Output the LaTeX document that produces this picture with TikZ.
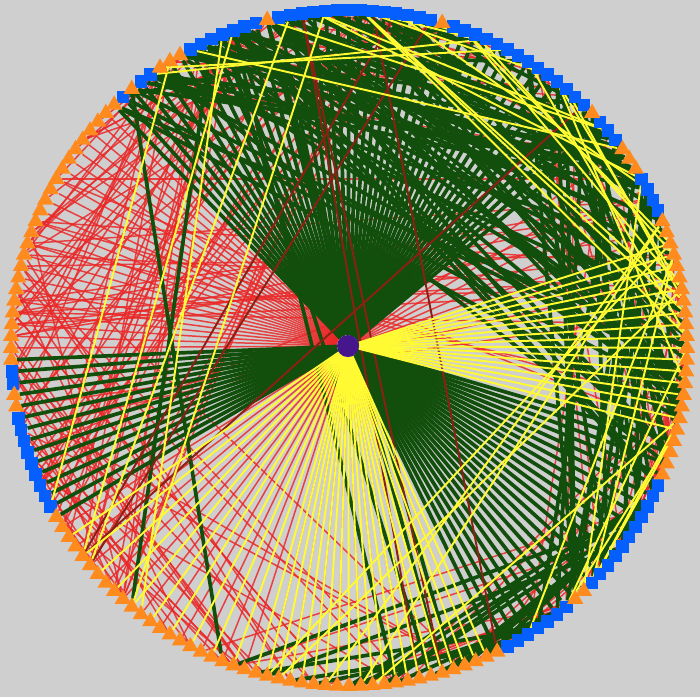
\documentclass[tikz,border=0pt]{standalone}
\usetikzlibrary{shapes.geometric}
\pgfdeclarelayer{bgl}
\pgfdeclarelayer{edges}
\pgfsetlayers{bgl,edges,main}
\definecolor{bgc}{RGB}{207,207,207}
\definecolor{gc}{RGB}{18,78,12}
\definecolor{rc}{RGB}{235,40,40}
\definecolor{yc}{RGB}{255,250,50}
\definecolor{oc}{RGB}{255,138,30}
\definecolor{bc}{RGB}{5,95,255}
\definecolor{pc}{RGB}{70,22,140}
\definecolor{brc}{RGB}{140,32,20}
\begin{document}
\begin{tikzpicture}[x=0.02cm,y=-0.02cm,
  bluesq/.style={rectangle,fill=bc,inner sep=0pt,minimum size=12.5*0.02cm},
  oratri/.style={regular polygon,regular polygon sides=3,fill=oc,inner sep=0pt,minimum size=19*0.02cm},
  hubnode/.style={circle,fill=pc,inner sep=0pt,minimum size=22*0.02cm},
  gline/.style={draw=gc,line width=2.1pt},
  rline/.style={draw=rc,line width=0.85pt,draw opacity=0.85},
  yline/.style={draw=yc,line width=1.1pt},
  bline/.style={draw=brc,line width=1.1pt}]
\begin{pgfonlayer}{bgl}
\fill[bgc] (0,0) rectangle (700,697);
\end{pgfonlayer}
\useasboundingbox (0,0) rectangle (700,697);
% perimeter nodes, node k at angle 2k degrees
\foreach \s/\e in {12/15,19/21,23/36,38/51,53/59,63/64,66/66,92/93,96/104,149/155,158/168}{
  \foreach \k in {\s,...,\e}{
    \node[bluesq] (n\k) at ({349+338*cos(2*\k)},{348-338*sin(2*\k)}) {};
  }
}
\foreach \s/\e in {0/11,16/18,22/22,37/37,52/52,60/62,65/65,67/91,94/95,105/148,156/157,169/179}{
  \foreach \k in {\s,...,\e}{
    \node[oratri] (n\k) at ({349+338*cos(2*\k)},{348-338*sin(2*\k)}) {};
  }
}
\node[hubnode] (c) at (348,346) {};
\pgfmathsetseed{4242}
\begin{pgfonlayer}{edges}
% red hub edges
\foreach \k in {68,...,90}{\draw[rline] (c) -- (n\k);}
\foreach \k in {106,108,...,146}{\draw[rline] (c) -- (n\k);}
\foreach \k in {10,12,...,18}{\draw[rline] (c) -- (n\k);}
% red chords
\foreach \i in {1,...,50}{
  \pgfmathrandominteger{\ra}{68}{115}\pgfmathrandominteger{\rb}{38}{62}
  \draw[rline] (n\ra) -- (n\rb);}
\foreach \i in {1,...,20}{
  \pgfmathrandominteger{\ra}{75}{100}\pgfmathrandominteger{\rb}{170}{195}
  \pgfmathtruncatemacro{\rb}{mod(\rb,180)}
  \draw[rline] (n\ra) -- (n\rb);}
\foreach \i in {1,...,30}{
  \pgfmathrandominteger{\ra}{110}{145}\pgfmathrandominteger{\rb}{80}{105}
  \draw[rline] (n\ra) -- (n\rb);}
\foreach \i in {1,...,15}{
  \pgfmathrandominteger{\ra}{45}{66}\pgfmathrandominteger{\rb}{15}{35}
  \draw[rline] (n\ra) -- (n\rb);}
\foreach \i in {1,...,12}{
  \pgfmathrandominteger{\ra}{150}{178}\pgfmathrandominteger{\rb}{5}{30}
  \draw[rline] (n\ra) -- (n\rb);}
\foreach \i in {1,...,15}{
  \pgfmathrandominteger{\ra}{122}{148}\pgfmathrandominteger{\rb}{155}{178}
  \draw[rline] (n\ra) -- (n\rb);}
\foreach \i in {1,...,15}{
  \pgfmathrandominteger{\ra}{172}{188}\pgfmathrandominteger{\rb}{160}{176}
  \pgfmathtruncatemacro{\ra}{mod(\ra,180)}
  \draw[rline] (n\ra) -- (n\rb);}
% green hub edges
\foreach \k in {20,...,67}{\draw[gline] (c) -- (n\k);}
\foreach \k in {91,...,105}{\draw[gline] (c) -- (n\k);}
\foreach \k in {148,...,172}{\draw[gline] (c) -- (n\k);}
% green chords
\foreach \i in {1,...,50}{
  \pgfmathrandominteger{\ra}{38}{67}\pgfmathrandominteger{\rb}{168}{200}
  \pgfmathtruncatemacro{\rb}{mod(\rb,180)}
  \draw[gline] (n\ra) -- (n\rb);}
\foreach \i in {1,...,25}{
  \pgfmathrandominteger{\ra}{12}{35}\pgfmathrandominteger{\rb}{150}{178}
  \draw[gline] (n\ra) -- (n\rb);}
\foreach \i in {1,...,18}{
  \pgfmathrandominteger{\ra}{149}{168}\pgfmathrandominteger{\rb}{125}{147}
  \draw[gline] (n\ra) -- (n\rb);}
\foreach \i in {1,...,6}{
  \pgfmathrandominteger{\ra}{40}{70}\pgfmathrandominteger{\rb}{110}{150}
  \draw[gline] (n\ra) -- (n\rb);}
\foreach \i in {1,...,15}{
  \pgfmathrandominteger{\ra}{40}{66}\pgfmathrandominteger{\rb}{12}{36}
  \draw[gline] (n\ra) -- (n\rb);}
% brown chords
\foreach \i in {1,...,6}{
  \pgfmathrandominteger{\ra}{20}{60}\pgfmathrandominteger{\rb}{100}{160}
  \draw[bline] (n\ra) -- (n\rb);}
% yellow hub edges
\foreach \k in {107,109,...,125}{\draw[yline] (c) -- (n\k);}
\foreach \k in {127,...,147}{\draw[yline] (c) -- (n\k);}
\foreach \k in {173,...,179}{\draw[yline] (c) -- (n\k);}
\foreach \k in {0,...,9}{\draw[yline] (c) -- (n\k);}
% yellow chords
\foreach \i in {1,...,12}{
  \pgfmathrandominteger{\ra}{172}{195}\pgfmathrandominteger{\rb}{125}{160}
  \pgfmathtruncatemacro{\ra}{mod(\ra,180)}
  \draw[yline] (n\ra) -- (n\rb);}
\foreach \i in {1,...,10}{
  \pgfmathrandominteger{\ra}{175}{192}\pgfmathrandominteger{\rb}{20}{45}
  \pgfmathtruncatemacro{\ra}{mod(\ra,180)}
  \draw[yline] (n\ra) -- (n\rb);}
\foreach \i in {1,...,5}{
  \pgfmathrandominteger{\ra}{100}{120}\pgfmathrandominteger{\rb}{45}{70}
  \draw[yline] (n\ra) -- (n\rb);}
\foreach \i in {1,...,10}{
  \pgfmathrandominteger{\ra}{40}{66}\pgfmathrandominteger{\rb}{14}{36}
  \draw[yline] (n\ra) -- (n\rb);}
\end{pgfonlayer}
\end{tikzpicture}
\end{document}
